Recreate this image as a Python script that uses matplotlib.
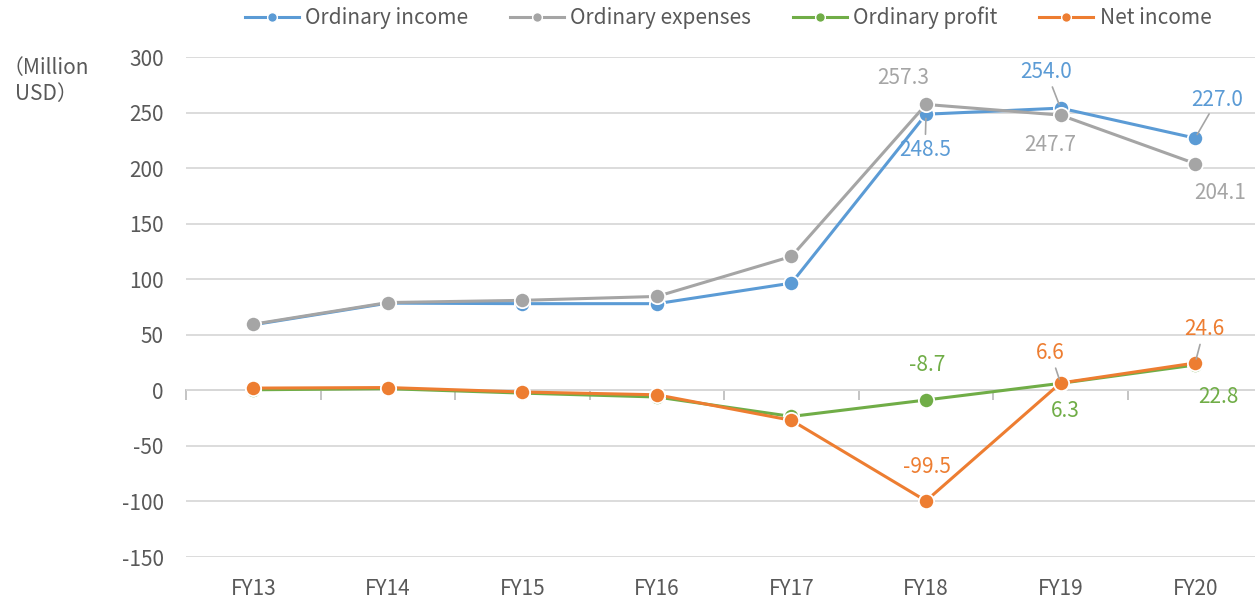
import matplotlib.pyplot as plt
import numpy as np

plt.rcParams['font.family'] = ['Noto Sans CJK JP', 'DejaVu Sans']
plt.rcParams['axes.unicode_minus'] = False

years = ['FY13', 'FY14', 'FY15', 'FY16', 'FY17', 'FY18', 'FY19', 'FY20']
ordinary_income = [59.0, 78.5, 78.0, 78.0, 96.5, 248.5, 254.0, 227.0]
ordinary_expenses = [59.5, 79.0, 81.0, 84.5, 120.5, 257.3, 247.7, 204.1]
ordinary_profit = [0.5, 1.5, -2.5, -6.0, -23.5, -8.7, 6.3, 22.8]
net_income = [2.0, 2.5, -1.5, -4.0, -27.0, -99.5, 6.6, 24.6]

series = [
    ('Ordinary income', ordinary_income, '#5B9BD5'),
    ('Ordinary expenses', ordinary_expenses, '#A5A5A5'),
    ('Ordinary profit', ordinary_profit, '#70AD47'),
    ('Net income', net_income, '#ED7D31'),
]

# (series index, year index, dx px, dy px, leader line)
data_labels = [
    (1, 5, -23, 26, False),
    (0, 5, -1, -36, True),
    (0, 6, -14, 36, True),
    (1, 6, -10, -30, False),
    (0, 7, 22, 38, True),
    (1, 7, 25, -29, False),
    (2, 5, 1, 35, False),
    (3, 5, 1, 34, False),
    (3, 6, -10, 30, True),
    (2, 6, 5, -28, False),
    (3, 7, 9, 34, True),
    (2, 7, 23, -32, False),
]

text_color = '#595959'
grid_color = '#D9D9D9'

fig = plt.figure(figsize=(12.55, 6.01), dpi=100)
ax = fig.add_axes([186 / 1255, 44 / 601, 1069 / 1255, 500 / 601])

x = np.arange(len(years))
for name, values, color in series:
    ax.plot(x, values, color=color, lw=2.2, marker='o', markersize=11,
            markerfacecolor=color, markeredgecolor='white', markeredgewidth=1.3,
            label=name, zorder=3)

for si, xi, dx, dy, leader in data_labels:
    name, values, color = series[si]
    arrow = None
    if leader:
        arrow = dict(arrowstyle='-', color='#A5A5A5', lw=1.2, patchA=None,
                     shrinkA=11.5, shrinkB=3)
    ax.annotate(f'{values[xi]:.1f}', (x[xi], values[xi]), xytext=(dx, dy),
                textcoords='offset pixels', ha='center', va='center',
                fontsize=15, color=color, arrowprops=arrow, zorder=4,
                annotation_clip=False)

ax.set_xlim(-0.5, 7.445)
ax.set_ylim(-150, 300)
ax.set_yticks(np.arange(-150, 301, 50))
ax.yaxis.grid(True, color=grid_color, lw=1.3)
ax.set_axisbelow(True)
ax.tick_params(axis='y', length=0, labelsize=15, labelcolor=text_color, pad=16)
ax.set_xticks(x)
ax.set_xticklabels(years)
ax.tick_params(axis='x', length=0, labelsize=15, labelcolor=text_color, pad=15)
for s in ax.spines.values():
    s.set_visible(False)

# category axis line drawn at zero
zero_axis = ax.secondary_xaxis(150 / 450)
zero_axis.spines['bottom'].set_color('#BFBFBF')
zero_axis.spines['bottom'].set_linewidth(1.3)
zero_axis.set_xticks(np.arange(-0.5, 8, 1))
zero_axis.set_xticklabels([])
zero_axis.tick_params(axis='x', length=7, width=1.3, color='#BFBFBF')

fig.text(46 / 1255, 1 - 81 / 601, '（Million\nUSD）', ha='center', va='center',
         fontsize=15, color=text_color, linespacing=1.2)

leg_handles = []
for name, values, color in series:
    h, = ax.plot([], [], color=color, lw=2.2, marker='o', markersize=7,
                 markeredgecolor='white', markeredgewidth=1)
    leg_handles.append(h)
fig.legend(leg_handles, [s[0] for s in series], loc='center', ncol=4,
           bbox_to_anchor=(728 / 1255, 1 - 18 / 601), frameon=False, fontsize=15,
           labelcolor=text_color, handlelength=2.6, handletextpad=0.3, columnspacing=2.0)

fig.savefig('out.png', dpi=100)
